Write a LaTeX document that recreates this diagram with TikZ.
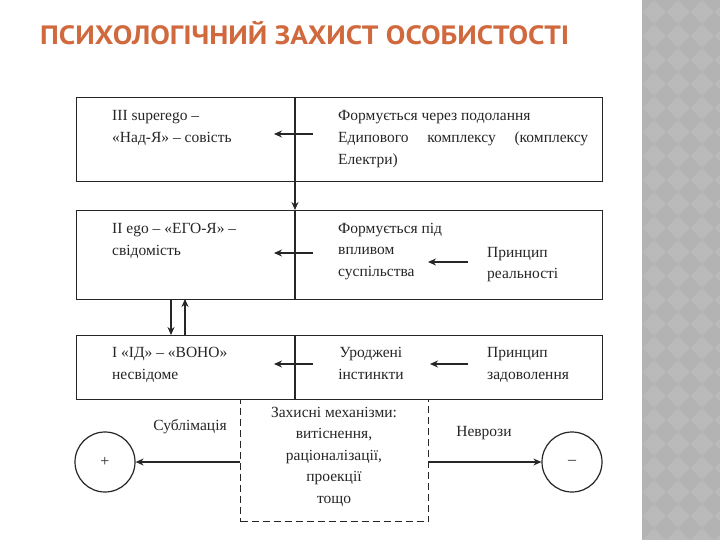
\documentclass[tikz,border=0pt]{standalone}
\usepackage{fontspec}
\setmainfont{Liberation Serif}
\newfontfamily\titlefont[FakeStretch=1.105]{PT Sans}
\usetikzlibrary{arrows.meta}
\definecolor{titleor}{HTML}{D06A3E}
\definecolor{ink}{HTML}{262626}
\definecolor{stripgray}{HTML}{BABABA}
\definecolor{diagray}{HTML}{B3B3B3}
\begin{document}
\begin{tikzpicture}[x=1pt,y=-1pt,
  box/.style={draw=ink, line width=1.2pt, rectangle, inner sep=0pt, anchor=north west},
  txt/.style={inner sep=0pt, anchor=north west, align=left, text=ink, font=\fontsize{15.5}{22}\selectfont},
  arr/.style={draw=ink, line width=1.2pt, -{Stealth[length=8pt,width=7pt]}},
  ln/.style={draw=ink, line width=1.2pt},
  circ/.style={draw=ink, line width=1.2pt, circle, minimum size=60pt, inner sep=0pt, text=ink, font=\fontsize{16}{16}\selectfont}]
\useasboundingbox (0,0) rectangle (720,540);
\fill[white] (0,0) rectangle (720,540);
% decorative strip
\begin{scope}
\clip (642,0) rectangle (720,540);
\fill[stripgray] (642,0) rectangle (720,540);
\foreach \i in {0,...,4}{
  \foreach \j in {0,...,23}{
    \fill[diagray] ({642+24*\i},{24*\j-12}) -- ++(12,12) -- ++(-12,12) -- ++(-12,-12) -- cycle;
  }
}
\end{scope}
% title
\node[inner sep=0pt, anchor=base west, text=titleor, font=\titlefont\bfseries\fontsize{26.5}{28}\selectfont] (title) at (40,45) {ПСИХОЛОГІЧНИЙ ЗАХИСТ ОСОБИСТОСТІ};
% boxes
\node[box, minimum width=526pt, minimum height=84pt] (b1) at (76,97) {};
\node[box, minimum width=526pt, minimum height=89pt] (b2) at (76,210) {};
\node[box, minimum width=526pt, minimum height=64pt] (b3) at (76,335) {};
% dividers
\coordinate (d1) at (295,97);
\coordinate (d2) at (295,210);
\coordinate (d2b) at (295,299);
\coordinate (d3) at (295,335);
\coordinate (d3b) at (295,399);
\draw[arr] (d1) -- (d2);
\draw[ln] (d2) -- (d2b);
\draw[ln] (d3) -- (d3b);
% box 1 text
\node[txt] (t1l) at (112,110) {III superego –\\«Над-Я» – совість};
\node[txt] (t1r) at (338,110) {Формується через подолання\\\hbox to 250pt{Едипового\hfill комплексу\hfill (комплексу}\\Електри)};
% box 2 text
\node[txt] (t2l) at (112,223) {II ego – «ЕГО-Я» –\\свідомість};
\node[txt, font=\fontsize{15.5}{21.5}\selectfont] (t2r) at (338,223) {Формується під\\впливом\\суспільства};
\node[txt, font=\fontsize{15.5}{21}\selectfont] (t2p) at (487,247) {Принцип\\реальності};
% box 3 text
\node[txt] (t3l) at (112,347) {I «ІД» – «ВОНО»\\несвідоме};
\node[txt, align=center, anchor=north] (t3m) at (371,347) {Уроджені\\інстинкти};
\node[txt] (t3p) at (487,347) {Принцип\\задоволення};
% arrows inside boxes
\coordinate (a1s) at (313,134); \coordinate (a1e) at (274,134);
\draw[arr] (a1s) -- (a1e);
\coordinate (a2s) at (313,253); \coordinate (a2e) at (274,253);
\draw[arr] (a2s) -- (a2e);
\coordinate (a3s) at (468,262); \coordinate (a3e) at (428,262);
\draw[arr] (a3s) -- (a3e);
\coordinate (a4s) at (313,364); \coordinate (a4e) at (274,364);
\draw[arr] (a4s) -- (a4e);
\coordinate (a5s) at (468,364); \coordinate (a5e) at (430,364);
\draw[arr] (a5s) -- (a5e);
% between box 2 and 3
\draw[arr] (171,299) -- (171,335);
\draw[arr] (185,335) -- (185,299);
% defence mechanisms
\node[draw=ink, line width=1.2pt, dash pattern=on 7pt off 4pt, rectangle, inner sep=0pt, anchor=north west, minimum width=188pt, minimum height=122pt] (def) at (240,399) {};
\node[txt, align=center, anchor=north, font=\fontsize{15.5}{21.5}\selectfont] (deft) at (334,407) {Захисні механізми:\\витіснення,\\раціоналізації,\\проекції\\тощо};
\node[circ] (plus) at (105,462) {+};
\node[circ] (minus) at (572,462) {–};
\draw[arr] (def.west |- plus) -- (plus.east);
\draw[arr] (def.east |- minus) -- (minus.west);
\node[txt, anchor=center] (subl) at (190,427) {Сублімація};
\node[txt, anchor=center] (nevr) at (484,433) {Неврози};
\end{tikzpicture}
\end{document}
